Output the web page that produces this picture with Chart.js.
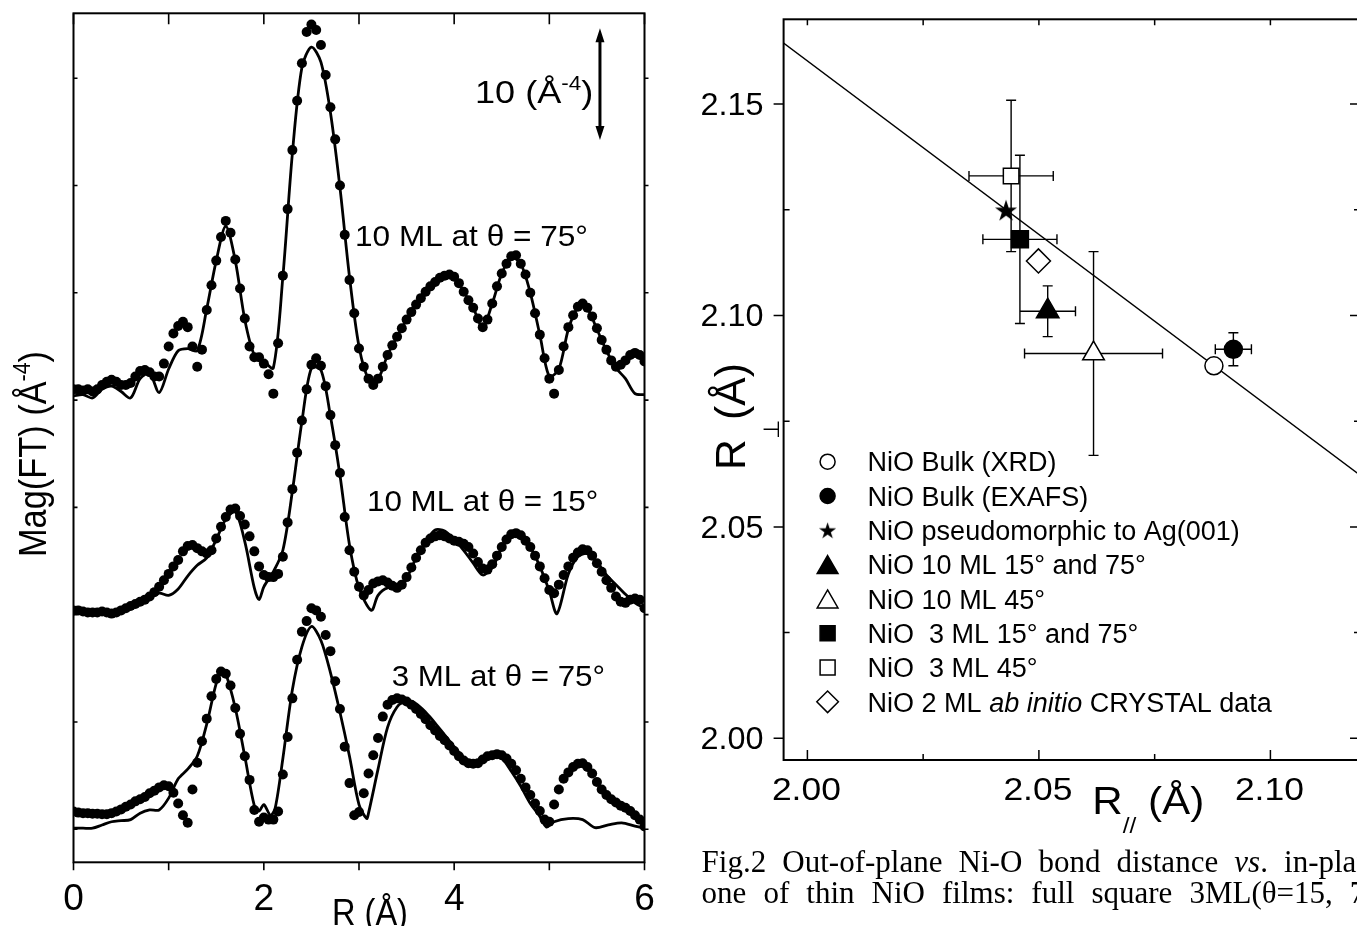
<!DOCTYPE html>
<html>
<head>
<meta charset="utf-8">
<script src="https://cdn.jsdelivr.net/npm/chart.js@4.4.0/dist/chart.umd.min.js"></script>
<style>
html, body { margin: 0; padding: 0; background: #fff; width: 1357px; height: 926px; overflow: hidden; position: relative; }
#left { position: absolute; left: 0; top: 0; }
#right { position: absolute; left: 680px; top: 0; }
.cap { position: absolute; left: 701.6px; font-family: "Liberation Serif", "Times New Roman", serif; font-size: 31px; line-height: 31px;
       text-align: justify; text-align-last: justify; color: #000; }
</style>
</head>
<body>
<canvas id="left" width="660" height="926"></canvas>
<canvas id="right" width="700" height="926"></canvas>
<div class="cap" style="top:846px;width:684px">Fig.2 Out-of-plane Ni-O bond distance <i>vs</i>. in-plane</div>
<div class="cap" style="top:877px;width:702px">one of thin NiO films: full square 3ML(θ=15, 75°)</div>
<script>
// ---------- left panel : Mag(FT), curves offset vertically ----------
var rGrid = [0,0.05,0.1,0.15,0.2,0.25,0.3,0.35,0.4,0.45,0.5,0.55,0.6,0.65,0.7,0.75,0.8,0.85,0.9,0.95,
  1,1.05,1.1,1.15,1.2,1.25,1.3,1.35,1.4,1.45,1.5,1.55,1.6,1.65,1.7,1.75,1.8,1.85,1.9,1.95,
  2,2.05,2.1,2.15,2.2,2.25,2.3,2.35,2.4,2.45,2.5,2.55,2.6,2.65,2.7,2.75,2.8,2.85,2.9,2.95,
  3,3.05,3.1,3.15,3.2,3.25,3.3,3.35,3.4,3.45,3.5,3.55,3.6,3.65,3.7,3.75,3.8,3.85,3.9,3.95,
  4,4.05,4.1,4.15,4.2,4.25,4.3,4.35,4.4,4.45,4.5,4.55,4.6,4.65,4.7,4.75,4.8,4.85,4.9,4.95,
  5,5.05,5.1,5.15,5.2,5.25,5.3,5.35,5.4,5.45,5.5,5.55,5.6,5.65,5.7,5.75,5.8,5.85,5.9,5.95,6];

// experiment (dots)
var dots10ml75 = [41.0,41.0,40.9,41.0,40.8,41.0,41.4,41.7,41.9,41.7,41.4,41.4,41.6,42.2,42.7,42.8,42.6,42.2,42.2,43.4,
  45.0,46.2,46.9,47.3,46.8,45.0,43.1,44.7,48.4,50.7,53.0,55.2,56.7,55.6,53.1,50.4,47.6,45.0,44.0,44.0,
  43.4,42.4,40.6,45.3,51.6,57.8,63.3,67.9,71.4,74.3,75.0,74.5,73.1,70.3,67.3,64.3,60.0,55.4,51.2,48.1,
  44.8,43.1,42.0,41.4,42.0,43.1,44.2,45.1,45.9,46.7,47.5,48.2,48.9,49.5,50.1,50.6,51.0,51.4,51.6,51.7,
  51.5,50.9,50.1,49.3,48.6,47.6,46.8,47.5,49.0,50.6,51.8,52.7,53.4,53.5,52.7,51.7,50.0,48.1,46.1,43.9,
  42.0,40.6,42.8,45.0,46.8,47.9,48.7,49.0,48.6,47.8,46.7,45.6,44.7,43.7,43.1,43.3,43.7,44.2,44.4,44.2,43.6];
var dots10ml15 = [20.4,20.4,20.3,20.2,20.2,20.2,20.3,20.2,20.1,20.2,20.4,20.6,20.8,21.0,21.2,21.4,21.7,22.1,22.6,23.2,
  23.8,24.5,25.1,25.9,26.4,26.5,26.2,25.9,25.7,26.0,27.1,28.2,29.1,29.8,29.9,29.2,28.4,27.3,25.9,24.5,
  23.7,23.5,23.5,23.8,25.4,28.6,31.7,35.1,38.1,41.0,43.3,43.9,43.2,41.3,38.6,35.8,33.2,29.1,26.0,24.0,
  22.6,21.8,22.3,22.9,23.1,23.2,23.0,22.7,22.5,22.8,23.5,24.4,25.3,26.0,26.7,27.1,27.3,27.4,27.3,27.1,
  26.9,26.8,26.6,26.3,25.7,24.9,24.3,24.2,24.7,25.5,26.3,27.0,27.5,27.6,27.4,26.9,26.3,25.5,24.5,23.4,
  22.3,22.0,22.8,23.7,24.5,25.3,25.8,26.1,26.0,25.5,24.8,24.0,23.2,22.5,21.7,21.2,21.1,21.4,21.5,21.4,20.6];
var dots3ml75 = [1.65,1.55,1.5,1.5,1.45,1.45,1.4,1.4,1.5,1.65,1.85,2.1,2.3,2.6,2.8,3.0,3.35,3.6,3.9,4.1,
  4.0,3.4,2.4,1.3,0.6,3.7,6.2,8.2,10.3,12.4,14.0,14.7,14.5,13.4,11.3,8.9,6.8,4.6,1.8,0.7,
  1.1,0.9,0.9,1.65,5.1,8.6,12.2,15.8,18.4,19.4,20.6,20.4,19.8,18.1,16.6,13.8,11.2,7.7,4.3,1.3,
  1.6,3.35,5.2,6.9,8.5,10.5,11.6,12.05,12.2,12.1,11.9,11.6,11.2,10.75,10.25,9.7,9.2,8.7,8.3,7.8,
  7.3,6.8,6.4,6.15,6.1,6.15,6.5,6.8,6.9,7.0,6.9,6.6,6.1,5.5,4.7,3.9,3.2,2.4,1.7,0.9,
  0.7,2.3,3.7,4.7,5.3,5.8,6.1,6.15,5.8,5.2,4.4,3.7,3.2,2.8,2.5,2.2,2.0,1.7,1.3,0.9,0.25];

// fits (lines)
var fit10ml75R = [0,0.1,0.2,0.3,0.4,0.5,0.6,0.7,0.8,0.9,1,1.1,1.2,1.3,1.4,1.5,1.6,1.7,1.8,1.9,
  2,2.1,2.2,2.3,2.4,2.5,2.6,2.7,2.8,2.9,3,3.1,3.2,3.3,3.4,3.5,3.6,3.7,3.8,3.9,
  4,4.1,4.2,4.3,4.4,4.5,4.6,4.7,4.8,4.9,5,5.1,5.2,5.3,5.4,5.5,5.6,5.7,5.8,5.9,6];
var fit10ml75 = [40.4,40.5,40.2,41.0,41.3,40.8,40.2,42.0,42.5,40.7,42.9,44.6,44.8,44.6,48.5,53.0,56.2,53.0,47.5,44.2,
  43.6,43.0,51.5,63.0,71.0,72.9,71.5,66.8,59.8,51.5,45.0,42.0,42.0,44.2,45.9,47.5,48.9,50.1,51.0,51.6,
  51.5,50.1,48.6,46.8,49.0,51.8,53.3,52.7,50.0,46.1,42.2,42.9,46.6,48.6,48.5,46.6,44.6,43.0,42.0,40.6,40.5];
var fit10ml15R = [0,0.1,0.2,0.3,0.4,0.5,0.6,0.7,0.8,0.9,1,1.1,1.2,1.3,1.4,1.5,1.6,1.7,1.8,1.9,1.95,
  2,2.1,2.2,2.3,2.4,2.5,2.6,2.7,2.8,2.9,3,3.13,3.2,3.3,3.4,3.5,3.6,3.7,3.8,3.9,
  4,4.1,4.2,4.3,4.4,4.5,4.6,4.7,4.8,4.9,5,5.08,5.2,5.3,5.4,5.5,5.6,5.7,5.8,5.9,6];
var fit10ml15 = [20.3,20.3,20.2,20.2,20.1,20.4,20.8,21.2,21.6,22.0,21.8,22.4,23.6,24.6,25.3,27.0,28.9,29.6,26.8,22.5,21.4,
  22.6,24.0,26.0,31.5,38.0,43.0,42.8,38.5,33.0,26.5,22.5,20.4,21.8,22.5,22.4,23.4,25.3,26.8,27.9,27.8,
  27.0,26.0,24.8,23.7,24.4,26.2,27.5,27.4,26.3,24.5,22.2,20.1,23.8,25.4,25.7,24.9,23.7,22.8,21.9,21.1,20.6];
var fit3ml75R = [0,0.1,0.2,0.3,0.4,0.5,0.6,0.7,0.8,0.9,1,1.1,1.2,1.3,1.4,1.5,1.56,1.6,1.7,1.8,
  1.9,1.95,2,2.07,2.12,2.2,2.3,2.4,2.5,2.6,2.7,2.8,2.9,3,3.08,3.1,3.2,3.3,3.4,3.5,
  3.6,3.7,3.8,3.9,4,4.1,4.2,4.3,4.4,4.5,4.6,4.7,4.8,4.9,4.97,5.05,5.2,5.35,5.48,5.62,5.76,5.9,6];
var fit3ml75 = [0.1,0.1,0.1,0.4,0.7,0.8,0.9,1.5,1.8,1.8,2.9,4.7,5.6,6.8,9.8,13.6,14.7,14.5,11.3,6.8,
  2.2,1.7,2.3,1.3,2.0,6.6,13.0,17.0,18.9,17.6,14.6,10.9,6.8,2.3,1.0,1.5,5.6,9.5,11.4,12.0,
  11.7,10.9,9.9,8.8,7.7,6.7,6.2,6.5,6.8,6.6,5.4,4.0,2.4,1.2,0.2,0.7,1.0,0.9,0.15,0.4,0.6,0.3,0.1];

var rTicks = [0, 1, 2, 3, 4, 5, 6];
var rTickLabels = ['0', '', '2', '', '4', '', '6'];
var magTicks = [0, 10, 20, 30, 40, 50, 60, 70];

// ---------- right panel : R_perp vs R_par ----------
var seriesLabels = ['NiO Bulk (XRD)', 'NiO Bulk (EXAFS)', 'NiO pseudomorphic to Ag(001)', 'NiO 10 ML 15° and 75°',
  'NiO 10 ML 45°', 'NiO  3 ML 15° and 75°', 'NiO  3 ML 45°', 'NiO 2 ML ab initio CRYSTAL data'];
var rPar = [2.0878, 2.0920, 2.0429, 2.0519, 2.0618, 2.0459, 2.0440, 2.0499];
var rPerp = [2.0881, 2.0920, 2.1249, 2.1010, 2.0910, 2.1180, 2.1330, 2.1129];
var rParErr = [0, 0.0039, 0, 0.0060, 0.0149, 0.0080, 0.0091, 0];
var rPerpErr = [0, 0.0039, 0, 0.0060, 0.0241, 0.0199, 0.0179, 0];
var trendRPar = [1.99, 2.125];
var trendRPerp = [2.1684, 2.0576];
var parTicks = [2.00, 2.05, 2.10];
var parTickLabels = ['2.00', '2.05', '2.10'];
var parMinor = [2.025, 2.075];
var perpTicks = [2.00, 2.05, 2.10, 2.15];
var perpTickLabels = ['2.00', '2.05', '2.10', '2.15'];
var perpMinor = [2.025, 2.075, 2.125];

var SANS = '"Liberation Sans", Arial, sans-serif';

function pts(xa, ya) {
    return xa.map(function (x, i) { return { x: x, y: ya[i] }; });
}

// text with super/subscripts, optionally stretched to a given width
function drawRich(ctx, parts, x, y, size, width, opts) {
    opts = opts || {};
    var small = opts.small || size * 0.62;
    function fontFor(kind) {
        var s = (kind === 'sup' || kind === 'sub') ? small : size;
        return (kind === 'i' ? 'italic ' : '') + s + 'px ' + SANS;
    }
    var total = 0;
    parts.forEach(function (p) { ctx.font = fontFor(p[1]); total += ctx.measureText(p[0]).width; });
    var sx = width ? width / total : 1;
    ctx.save();
    ctx.translate(x, y);
    if (opts.rotate) ctx.rotate(opts.rotate);
    ctx.scale(sx, 1);
    ctx.textAlign = 'left';
    ctx.textBaseline = 'alphabetic';
    ctx.fillStyle = '#000';
    var cx = opts.align === 'center' ? -total / 2 : (opts.align === 'right' ? -total : 0);
    parts.forEach(function (p) {
        ctx.font = fontFor(p[1]);
        var dy = 0;
        if (p[1] === 'sup') dy = -(opts.supShift || size * 0.42);
        if (p[1] === 'sub') dy = (opts.subShift || size * 0.3);
        ctx.fillText(p[0], cx, dy);
        cx += ctx.measureText(p[0]).width;
    });
    ctx.restore();
}

var leftDecor = {
    id: 'leftDecor',
    afterDraw: function (chart) {
        var ctx = chart.ctx, a = chart.chartArea, xs = chart.scales.x, ys = chart.scales.y;
        ctx.save();
        ctx.strokeStyle = '#000';
        ctx.fillStyle = '#000';
        ctx.lineWidth = 2;
        ctx.strokeRect(a.left, a.top, a.right - a.left, a.bottom - a.top);
        ctx.lineWidth = 1.6;
        ctx.beginPath();
        rTicks.forEach(function (t) {
            var px = xs.getPixelForValue(t);
            ctx.moveTo(px, a.bottom); ctx.lineTo(px, a.bottom + 8);
            ctx.moveTo(px, a.top); ctx.lineTo(px, a.top + 11);
        });
        magTicks.forEach(function (t) {
            var py = ys.getPixelForValue(t);
            ctx.moveTo(a.left, py); ctx.lineTo(a.left + 4, py);
            ctx.moveTo(a.right, py); ctx.lineTo(a.right + 4, py);
        });
        ctx.stroke();

        rTicks.forEach(function (t, i) {
            if (rTickLabels[i]) drawRich(ctx, [[rTickLabels[i], 'n']], xs.getPixelForValue(t), a.bottom + 48, 37, 0, { align: 'center' });
        });
        drawRich(ctx, [['R (Å)', 'n']], xs.getPixelForValue(2.716), a.bottom + 63, 36, 76);
        drawRich(ctx, [['Mag(FT) (Å', 'n'], ['-4', 'sup'], [')', 'n']], a.left - 27.5, 557, 38, 206, { rotate: -Math.PI / 2 });

        // curve labels
        function label(parts, r0, r1, v, size) {
            var x0 = xs.getPixelForValue(r0), x1 = xs.getPixelForValue(r1);
            drawRich(ctx, parts, x0, ys.getPixelForValue(v), size, x1 - x0);
        }
        label([['10 ML at θ = 75°', 'n']], 2.958, 5.406, 54.4, 30);
        label([['10 ML at θ = 15°', 'n']], 3.084, 5.514, 29.7, 30);
        label([['3 ML at θ = 75°', 'n']], 3.343, 5.585, 13.36, 30);
        label([['10 (Å', 'n'], ['-4', 'sup'], [')', 'n']], 4.219, 5.462, 67.66, 32);

        // scale bar arrow (10 units)
        var ax = xs.getPixelForValue(5.532);
        var yTop = ys.getPixelForValue(74.65), yBot = ys.getPixelForValue(64.24);
        ctx.lineWidth = 3;
        ctx.beginPath();
        ctx.moveTo(ax, yTop + 10); ctx.lineTo(ax, yBot - 10);
        ctx.stroke();
        ctx.beginPath();
        ctx.moveTo(ax, yTop); ctx.lineTo(ax - 4.5, yTop + 14); ctx.lineTo(ax + 4.5, yTop + 14); ctx.closePath();
        ctx.moveTo(ax, yBot); ctx.lineTo(ax - 4.5, yBot - 14); ctx.lineTo(ax + 4.5, yBot - 14); ctx.closePath();
        ctx.fill();
        ctx.restore();
    }
};

function dotSet(data) {
    return { data: pts(rGrid, data), showLine: false, pointRadius: 5, pointBackgroundColor: '#000', pointBorderWidth: 0 };
}
function fitSet(r, v) {
    return { data: pts(r, v), showLine: true, borderColor: '#000', borderWidth: 2.8, pointRadius: 0, tension: 0.3 };
}

new Chart(document.getElementById('left'), {
    type: 'scatter',
    data: {
        datasets: [
            dotSet(dots10ml75), fitSet(fit10ml75R, fit10ml75),
            dotSet(dots10ml15), fitSet(fit10ml15R, fit10ml15),
            dotSet(dots3ml75), fitSet(fit3ml75R, fit3ml75)
        ]
    },
    options: {
        responsive: false,
        animation: false,
        devicePixelRatio: 1,
        events: [],
        layout: { padding: { left: 73.5, right: 15.5, top: 13.3, bottom: 63.7 } },
        plugins: { legend: { display: false }, tooltip: { enabled: false } },
        scales: {
            x: { type: 'linear', min: 0, max: 6, display: false },
            y: { type: 'linear', min: -3.08, max: 76.05, display: false }
        }
    },
    plugins: [leftDecor]
});

// ---------- right chart ----------
function makeStar(w) {
    var c = document.createElement('canvas');
    c.width = Math.ceil(w); c.height = Math.ceil(w);
    var g = c.getContext('2d');
    var R = w / 1.902, cx = c.width / 2, cy = c.height / 2 + 0.095 * R;
    g.fillStyle = '#000';
    g.beginPath();
    for (var k = 0; k < 10; k++) {
        var r = k % 2 === 0 ? R : R * 0.382;
        var ang = -Math.PI / 2 + k * Math.PI / 5;
        var px = cx + r * Math.cos(ang), py = cy + r * Math.sin(ang);
        if (k === 0) g.moveTo(px, py); else g.lineTo(px, py);
    }
    g.closePath();
    g.fill();
    return c;
}

var starBig = makeStar(22), starSmall = makeStar(17);
var markerStyles = [
    { style: 'circle', r: 9, lr: 7.5, bg: '#fff' },
    { style: 'circle', r: 9, lr: 7.5, bg: '#000' },
    { style: starBig, r: 10, lr: 8, bg: '#000', legendImg: starSmall },
    { style: 'triangle', r: 13, lr: 12, bg: '#000' },
    { style: 'triangle', r: 12.5, lr: 12, bg: '#fff' },
    { style: 'rect', r: 12, lr: 10.6, bg: '#000' },
    { style: 'rect', r: 11, lr: 10.6, bg: '#fff' },
    { style: 'rectRot', r: 12, lr: 10.8, bg: '#fff' }
];

var rightDatasets = seriesLabels.map(function (lab, i) {
    var st = markerStyles[i];
    return {
        label: lab,
        data: [{ x: rPar[i], y: rPerp[i] }],
        pointStyle: st.style,
        pointRadius: st.r,
        pointBackgroundColor: st.bg,
        pointBorderColor: '#000',
        pointBorderWidth: 1.5,
        order: 1
    };
});
rightDatasets.push({
    label: 'trend',
    data: pts(trendRPar, trendRPerp),
    showLine: true,
    borderColor: '#000',
    borderWidth: 1.3,
    pointRadius: 0,
    order: 10
});

var errorBars = {
    id: 'errorBars',
    beforeDatasetsDraw: function (chart) {
        var ctx = chart.ctx, xs = chart.scales.x, ys = chart.scales.y;
        ctx.save();
        ctx.strokeStyle = '#000';
        ctx.lineWidth = 1.4;
        ctx.beginPath();
        for (var i = 0; i < rPar.length; i++) {
            var px = xs.getPixelForValue(rPar[i]), py = ys.getPixelForValue(rPerp[i]);
            if (rParErr[i] > 0) {
                var x1 = xs.getPixelForValue(rPar[i] - rParErr[i]), x2 = xs.getPixelForValue(rPar[i] + rParErr[i]);
                ctx.moveTo(x1, py); ctx.lineTo(x2, py);
                ctx.moveTo(x1, py - 5); ctx.lineTo(x1, py + 5);
                ctx.moveTo(x2, py - 5); ctx.lineTo(x2, py + 5);
            }
            if (rPerpErr[i] > 0) {
                var y1 = ys.getPixelForValue(rPerp[i] + rPerpErr[i]), y2 = ys.getPixelForValue(rPerp[i] - rPerpErr[i]);
                ctx.moveTo(px, y1); ctx.lineTo(px, y2);
                ctx.moveTo(px - 5, y1); ctx.lineTo(px + 5, y1);
                ctx.moveTo(px - 5, y2); ctx.lineTo(px + 5, y2);
            }
        }
        ctx.stroke();
        ctx.restore();
    }
};

var rightDecor = {
    id: 'rightDecor',
    afterDraw: function (chart) {
        var ctx = chart.ctx, a = chart.chartArea, xs = chart.scales.x, ys = chart.scales.y;
        ctx.save();
        ctx.strokeStyle = '#000';
        ctx.lineWidth = 2;
        ctx.strokeRect(a.left, a.top, a.right - a.left, a.bottom - a.top);
        ctx.lineWidth = 1.5;
        ctx.beginPath();
        perpTicks.forEach(function (t) {
            var py = ys.getPixelForValue(t);
            ctx.moveTo(a.left - 10, py); ctx.lineTo(a.left, py);
            ctx.moveTo(a.right - 10, py); ctx.lineTo(a.right, py);
        });
        perpMinor.forEach(function (t) {
            var py = ys.getPixelForValue(t);
            ctx.moveTo(a.left, py); ctx.lineTo(a.left + 6, py);
            ctx.moveTo(a.right - 6, py); ctx.lineTo(a.right, py);
        });
        parTicks.forEach(function (t) {
            var px = xs.getPixelForValue(t);
            ctx.moveTo(px, a.bottom); ctx.lineTo(px, a.bottom - 10);
            ctx.moveTo(px, a.top); ctx.lineTo(px, a.top + 6);
        });
        parMinor.forEach(function (t) {
            var px = xs.getPixelForValue(t);
            ctx.moveTo(px, a.bottom); ctx.lineTo(px, a.bottom - 6);
            ctx.moveTo(px, a.top); ctx.lineTo(px, a.top + 6);
        });
        ctx.stroke();

        perpTicks.forEach(function (t, i) {
            drawRich(ctx, [[perpTickLabels[i], 'n']], a.left - 20, ys.getPixelForValue(t) + 11, 32, 63, { align: 'right' });
        });
        parTicks.forEach(function (t, i) {
            drawRich(ctx, [[parTickLabels[i], 'n']], xs.getPixelForValue(t) - 1, a.bottom + 40, 32, 69, { align: 'center' });
        });
        // axis titles
        drawRich(ctx, [['R', 'n'], ['//', 'sub'], [' (Å)', 'n']], 412.3, a.bottom + 54, 38, 112, { small: 22, subShift: 19 });
        drawRich(ctx, [['R', 'n'], ['⊥', 'sub'], ['(Å)', 'n']], a.left - 38.6, 470, 42, 107, { rotate: -Math.PI / 2, small: 22, subShift: 34 });

        // legend inside plot
        var lx = a.left + 44, tx = a.left + 84, row0 = 461.7, dyRow = 34.3;
        seriesLabels.forEach(function (lab, i) {
            var st = markerStyles[i];
            var cy = row0 + i * dyRow;
            ctx.save();
            if (st.legendImg) {
                ctx.drawImage(st.legendImg, lx - st.legendImg.width / 2, cy - st.legendImg.height / 2);
            } else {
                ctx.fillStyle = st.bg;
                ctx.strokeStyle = '#000';
                ctx.lineWidth = 1.5;
                var yy = st.style === 'triangle' ? cy + st.lr / 4 : cy;
                Chart.helpers.drawPoint(ctx, { pointStyle: st.style, radius: st.lr, rotation: 0, borderWidth: 1.5 }, lx, yy);
            }
            ctx.restore();
            var parts;
            var k = lab.indexOf('ab initio');
            if (k >= 0) parts = [[lab.slice(0, k), 'n'], ['ab initio', 'i'], [lab.slice(k + 9), 'n']];
            else parts = [[lab, 'n']];
            drawRich(ctx, parts, tx, cy + 9.7, 27, 0);
        });
        ctx.restore();
    }
};

new Chart(document.getElementById('right'), {
    type: 'scatter',
    data: { datasets: rightDatasets },
    options: {
        responsive: false,
        animation: false,
        devicePixelRatio: 1,
        events: [],
        layout: { padding: { left: 103.6, right: 20, top: 19.3, bottom: 166 } },
        plugins: { legend: { display: false }, tooltip: { enabled: false } },
        scales: {
            x: { type: 'linear', min: 1.99486, max: 2.11935, display: false },
            y: { type: 'linear', min: 1.99487, max: 2.17004, display: false }
        }
    },
    plugins: [errorBars, rightDecor]
});
</script>
</body>
</html>
